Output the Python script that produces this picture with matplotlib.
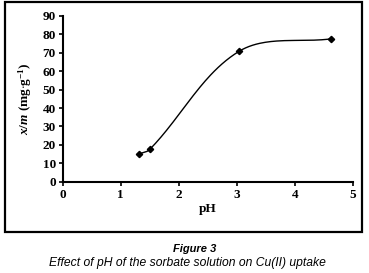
import numpy as np
import matplotlib.pyplot as plt
from matplotlib.patches import Rectangle

plt.rcParams['mathtext.fontset'] = 'custom'
plt.rcParams['mathtext.rm'] = 'Liberation Serif:bold'
plt.rcParams['mathtext.it'] = 'Liberation Serif:bold:italic'
plt.rcParams['mathtext.bf'] = 'Liberation Serif:bold'

ph = [1.31, 1.5, 3.04, 4.63]
uptake = [15.0, 17.5, 70.8, 77.6]
xticks = [0, 1, 2, 3, 4, 5]
yticks = [0, 10, 20, 30, 40, 50, 60, 70, 80, 90]


def smooth(xs, ys, sx=58.0, sy=1.84, k=0.35, n=50):
    # bezier smoothing done in screen units, handles scaled by segment length
    p = np.column_stack([np.asarray(xs) * sx, np.asarray(ys) * sy])
    npt = len(p)
    out = []
    for i in range(npt - 1):
        a, b = p[i], p[i + 1]
        pa = p[i - 1] if i > 0 else a
        lb = np.linalg.norm(a - pa)
        la = np.linalg.norm(b - a)
        c1 = a + (b - pa) * la / (la + lb) * (k if i > 0 else 1 / 3)
        nb = p[i + 2] if i + 2 < npt else b
        l2 = np.linalg.norm(nb - b)
        c2 = b - (nb - a) * la / (la + l2) * (k if i + 2 < npt else 1 / 3)
        t = np.linspace(0, 1, n)[:, None]
        seg = (1 - t) ** 3 * a + 3 * (1 - t) ** 2 * t * c1 + 3 * (1 - t) * t ** 2 * c2 + t ** 3 * b
        out.append(seg)
    out = np.vstack(out)
    return out[:, 0] / sx, out[:, 1] / sy


W, H = 369, 273
fig = plt.figure(figsize=(W / 100, H / 100), dpi=100)
fig.patches.append(Rectangle((5 / W, 1 - 232 / H), 357 / W, 230 / H, transform=fig.transFigure,
                             fill=False, edgecolor='black', linewidth=1.6))

ax = fig.add_axes([62.7 / W, 1 - 181.7 / H, 290 / W, 165.7 / H])
cx, cy = smooth(ph, uptake)
ax.plot(cx, cy, color='black', linewidth=1.0)
ax.plot(ph, uptake, linestyle='none', marker='D', markersize=3.2, color='black')

ax.set_xlim(0, 5)
ax.set_ylim(0, 90)
ax.set_xticks(xticks)
ax.set_yticks(yticks)
for s in ['top', 'right']:
    ax.spines[s].set_visible(False)
for s in ['left', 'bottom']:
    ax.spines[s].set_linewidth(1.5)
ax.tick_params(direction='out', length=3, width=1.2, pad=2)
for lab in ax.get_xticklabels() + ax.get_yticklabels():
    lab.set_family('Liberation Serif')
    lab.set_fontweight('bold')
    lab.set_fontsize(9.5)

ax.set_xlabel('pH', family='Liberation Serif', fontweight='bold', fontsize=9.5, labelpad=2)
ax.set_ylabel(r'$x/m$ (mg$\cdot$g$^{-1}$)', family='Liberation Serif',
              fontweight='bold', fontsize=9.5, labelpad=6)

fig.text(195 / W, 1 - 249 / H, 'Figure 3', ha='center', va='center', family='Liberation Sans',
         fontweight='bold', style='italic', fontsize=8)
fig.text(187 / W, 1 - 263 / H, 'Effect of pH of the sorbate solution on Cu(II) uptake', ha='center',
         va='center', family='Liberation Sans', style='italic', fontsize=8.7)

fig.savefig('out.png', dpi=100)
